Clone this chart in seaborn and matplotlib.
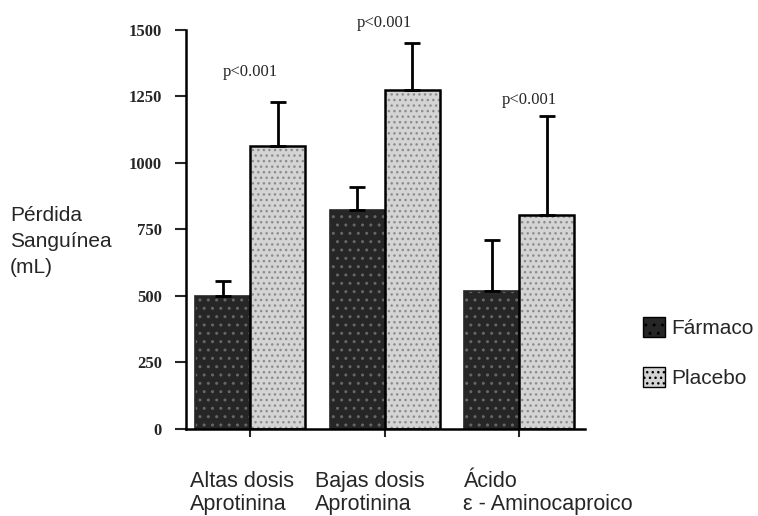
import pandas as pd
import matplotlib
matplotlib.use("Agg")
import matplotlib.pyplot as plt
import seaborn as sns
from matplotlib.patches import Patch

# datos
grupos = ["Altas dosis\nAprotinina", "Bajas dosis\nAprotinina", "Ácido\nε - Aminocaproico"]
series = ["Fármaco", "Placebo"]
farmaco = [500, 823, 520]
placebo = [1065, 1275, 805]
err_farmaco = [55, 85, 190]
err_placebo = [165, 175, 372]
p_textos = ["p<0.001", "p<0.001", "p<0.001"]
y_ticks = [0, 250, 500, 750, 1000, 1250, 1500]

df = pd.DataFrame({
    "grupo": grupos * 2,
    "serie": [series[0]] * 3 + [series[1]] * 3,
    "valor": farmaco + placebo,
    "err": err_farmaco + err_placebo,
})

sns.set_style("white")
plt.rcParams["font.family"] = ["Liberation Sans", "DejaVu Sans"]

fig = plt.figure(figsize=(7.58, 5.16), dpi=100)
ax = fig.add_axes([0.245, 0.169, 0.527, 0.773])

colores = {"Fármaco": "#262626", "Placebo": "#d4d4d4"}
sns.barplot(data=df, x="grupo", y="valor", hue="serie", palette=colores,
            errorbar=None, width=0.82, ax=ax, legend=False,
            edgecolor="black", linewidth=1.2)

# textura punteada
for bar in ax.patches[:3]:
    bar.set_hatch("..")
    bar.set_edgecolor("#262626")
    bar._hatch_color = (0.4, 0.4, 0.4, 1)
for bar in ax.patches[3:6]:
    bar.set_hatch("...")
    bar.set_edgecolor("black")
    bar.set_linewidth(1.8)
    bar._hatch_color = (0.55, 0.55, 0.55, 1)

# barras de error solo hacia arriba
for bar, e in zip(ax.patches[:6], err_farmaco + err_placebo):
    xc = bar.get_x() + bar.get_width() / 2
    h = bar.get_height()
    ax.errorbar(xc, h, yerr=[[0], [e]], fmt="none", ecolor="black",
                elinewidth=2, capsize=6, capthick=2)

# textos de significancia (posicion sobre cada grupo)
p_x = [0, 1, 2.075]
p_sobre = [112, 76, 60]
for i, txt in enumerate(p_textos):
    top = placebo[i] + err_placebo[i]
    ax.text(p_x[i], top + p_sobre[i], txt, ha="center", va="center",
            family=["Liberation Serif"], fontsize=12, clip_on=False)

ax.set_ylim(0, 1500)
ax.set_xlim(-0.48, 2.49)
ax.set_yticks(y_ticks)
ax.set_yticklabels([str(t) for t in y_ticks], family=["Liberation Serif"],
                   fontsize=12, fontweight="bold")
ax.set_xticks([0, 1, 2])
ax.set_xticklabels([])
ax.tick_params(axis="y", direction="out", length=8, width=1.5, left=True, pad=9)
ax.tick_params(axis="x", direction="out", length=6, width=1.5, bottom=True)
ax.set_xlabel("")
ax.set_ylabel("")
for s in ["top", "right"]:
    ax.spines[s].set_visible(False)
for s in ["left", "bottom"]:
    ax.spines[s].set_linewidth(1.8)
    ax.spines[s].set_color("black")

# etiquetas de grupos alineadas a la izquierda (va=baseline -> ultima linea)
x_izq = [-0.446, 0.484, 1.585]
for xi, g in zip(x_izq, grupos):
    ax.text(xi, -0.203, g, transform=ax.get_xaxis_transform(), ha="left",
            va="baseline", fontsize=15.5, linespacing=1.14)

fig.text(0.013, 1 - 273 / 516, "Pérdida\nSanguínea\n(mL)", ha="left",
         va="baseline", fontsize=15, linespacing=1.47)

# leyenda
handles = [Patch(facecolor=colores[s], edgecolor="black", hatch=h, label=s)
           for s, h in zip(series, ["..", "..."])]
fig.legend(handles=handles, loc="center left", bbox_to_anchor=(0.8235, 0.317),
           frameon=False, fontsize=15, handlelength=1.05, handleheight=1.1,
           labelspacing=1.4, handletextpad=0.3)

fig.savefig("out.png", dpi=100)
